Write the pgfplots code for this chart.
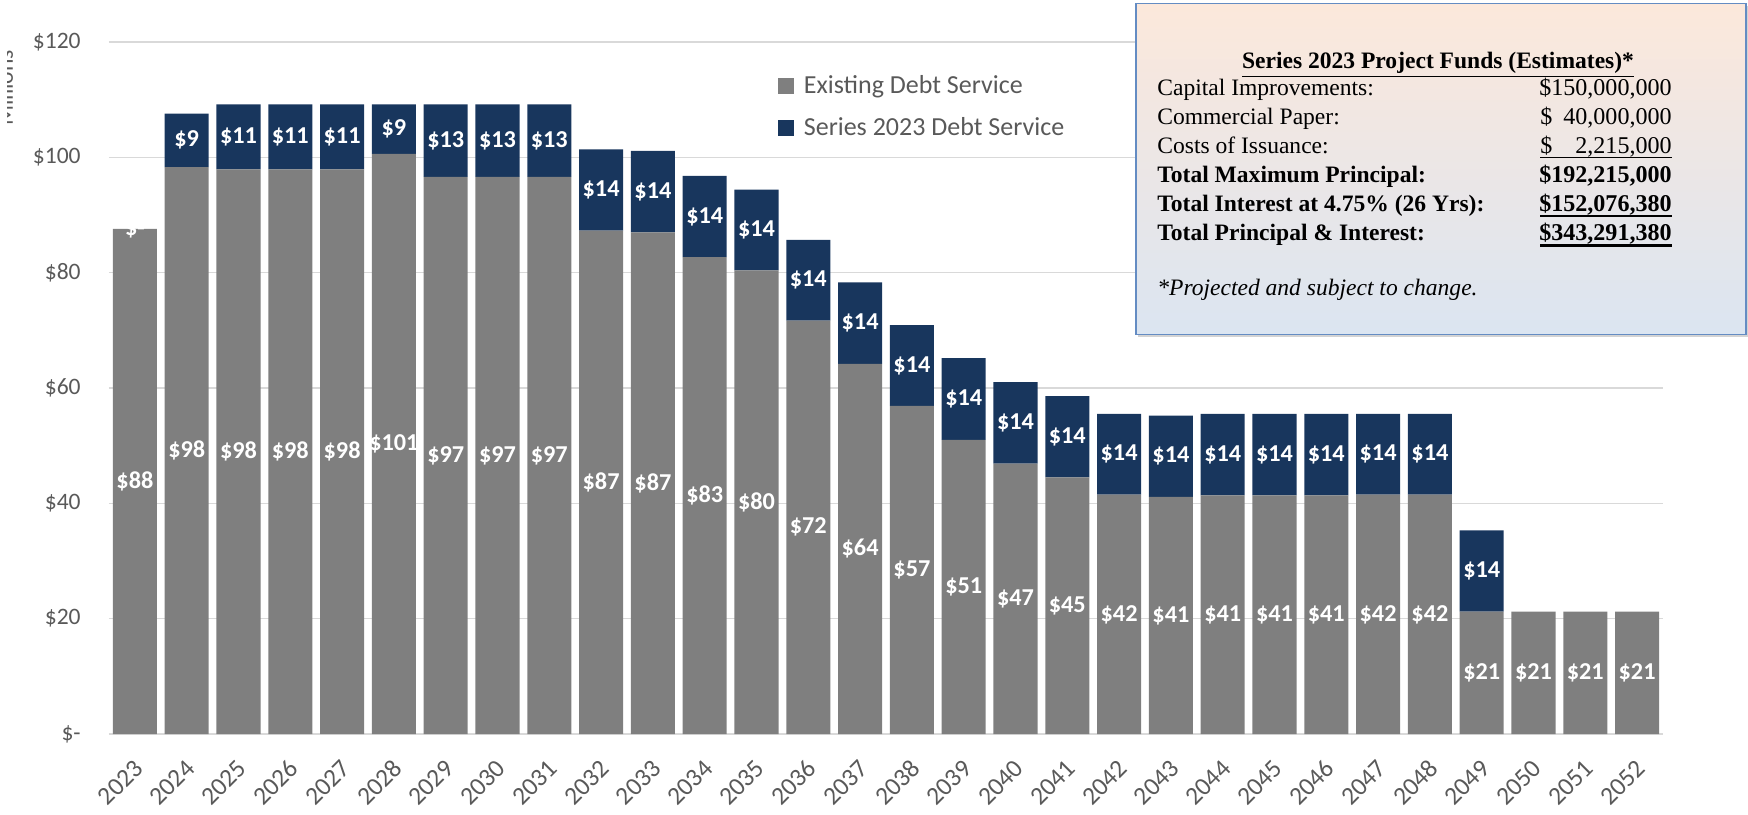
\documentclass[border=0pt]{standalone}
\usepackage{pgfplots}
\pgfplotsset{compat=1.18}
\usepackage{pgfplotstable}
\usepackage{fontspec}
\setmainfont{Carlito}
\newfontfamily\serif{Liberation Serif}
\usetikzlibrary{shadows}
\definecolor{exgray}{RGB}{127,127,127}
\definecolor{navy}{RGB}{24,54,93}
\definecolor{txtgray}{RGB}{89,89,89}
\definecolor{gridgray}{RGB}{217,217,217}
\definecolor{boxborder}{RGB}{100,140,195}
\definecolor{boxtop}{RGB}{252,232,219}
\definecolor{boxbot}{RGB}{219,229,241}

\pgfplotstableread{
x exist series elab slab
0 87.6 0 \$88 \$-
1 98.3 9.3 \$98 \$9
2 97.9 11.3 \$98 \$11
3 97.9 11.3 \$98 \$11
4 97.9 11.3 \$98 \$11
5 100.6 8.6 \$101 \$9
6 96.6 12.6 \$97 \$13
7 96.6 12.6 \$97 \$13
8 96.6 12.6 \$97 \$13
9 87.3 14.1 \$87 \$14
10 87.0 14.1 \$87 \$14
11 82.7 14.1 \$83 \$14
12 80.4 14.0 \$80 \$14
13 71.7 14.0 \$72 \$14
14 64.2 14.1 \$64 \$14
15 56.9 14.0 \$57 \$14
16 51.0 14.2 \$51 \$14
17 46.9 14.1 \$47 \$14
18 44.5 14.1 \$45 \$14
19 41.5 14.0 \$42 \$14
20 41.1 14.1 \$41 \$14
21 41.4 14.1 \$41 \$14
22 41.4 14.1 \$41 \$14
23 41.4 14.1 \$41 \$14
24 41.5 14.0 \$42 \$14
25 41.5 14.0 \$42 \$14
26 21.2 14.1 \$21 \$14
27 21.2 0 \$21 {}
28 21.2 0 \$21 {}
29 21.2 0 \$21 {}
}\data

\newcommand{\tickfont}{\fontsize{13.4}{16}\selectfont}
\newcommand{\xtickfont}{\fontsize{14.5}{17}\selectfont}
\newcommand{\labfont}{\fontsize{13.8}{16}\selectfont\bfseries}
\newcommand{\legfont}{\fontsize{14.8}{18}\selectfont}
\newcommand{\boxfont}{\fontsize{13.4}{16}\selectfont\serif}
\newcommand{\valfont}{\fontsize{13.7}{16}\selectfont\serif}

\pgfplotsset{frame/.style={
  scale only axis,
  width=310.8mm, height=138.4mm,
  at={(0,0)}, anchor=south west,
  xmin=-0.5, xmax=29.5,
  ymin=0, ymax=120}}

\begin{document}
\begin{tikzpicture}
\begin{axis}[
  frame,
  ybar stacked,
  bar width=0.85,
  xtick={0,...,29},
  xticklabels={2023,2024,2025,2026,2027,2028,2029,2030,2031,2032,2033,2034,2035,2036,2037,2038,2039,2040,2041,2042,2043,2044,2045,2046,2047,2048,2049,2050,2051,2052},
  ytick={0,20,...,120},
  yticklabels={\$-,\$20,\$40,\$60,\$80,\$100,\$120},
  axis x line*=bottom, axis y line*=left,
  x axis line style={gridgray, line width=0.3mm, -},
  y axis line style={draw=none},
  major tick length=0pt,
  ymajorgrids, grid style={gridgray, line width=0.3mm},
  yticklabel style={anchor=east, inner sep=0pt, xshift=-5.6mm, font=\tickfont, text=txtgray},
  xticklabel style={xshift=0.8mm, yshift=-6.0mm, rotate=45, anchor=east, inner sep=0pt, font=\xtickfont, text=txtgray},
  legend style={at={(0.4305,0.957)}, anchor=north west, draw=none, fill=none, font=\legfont, text=txtgray, inner sep=0pt, row sep=2.9mm},
  legend cell align=left,
  legend image code/.code={\fill[#1] (0mm,-1.55mm) rectangle (3.1mm,1.55mm); \path (4.4mm,0mm);},
]
\addplot[fill=exgray, draw=none] table[x=x, y=exist] {\data};
\addlegendentry{Existing Debt Service}
\addplot[fill=navy, draw=none] table[x=x, y=series] {\data};
\addlegendentry{Series 2023 Debt Service}
\end{axis}

% data labels, centred in each segment
\begin{axis}[frame, hide axis, clip=false,
  point meta=explicit symbolic,
  nodes near coords={\pgfplotspointmeta},
  nodes near coords align=center,
  every node near coord/.style={anchor=center, font=\labfont, text=white}]
\addplot[only marks, mark=none] table[x=x, y expr={\thisrow{exist}/2}, meta=elab] {\data};
\addplot[only marks, mark=none] table[x=x, y expr={\thisrow{exist}+\thisrow{series}/2}, meta=slab] {\data};
\end{axis}

% y axis title (clipped as in the reference)
\begin{scope}
\clip (-20.2mm,100mm) rectangle (-10mm,146mm);
\node[rotate=90, anchor=base, font=\tickfont, text=txtgray] at (-19.2mm,129.2mm) {Millions};
\end{scope}

% info box
\node[draw=boxborder, line width=0.3mm, top color=boxtop, bottom color=boxbot,
  drop shadow={shadow xshift=0.5mm, shadow yshift=-0.5mm, opacity=0.35},
  minimum width=122mm, minimum height=66.2mm, anchor=north west, inner sep=0pt]
  at (205.2mm,146.2mm) {};
\begin{scope}[every node/.style={inner sep=0pt}]
\node[anchor=base, font=\boxfont\bfseries] at (265.8mm,133.0mm) {\underline{Series 2023 Project Funds (Estimates)*}};
\node[anchor=base west, font=\boxfont] at (209.6mm,127.6mm) {Capital Improvements:};
\node[anchor=base west, font=\boxfont] at (209.6mm,121.8mm) {Commercial Paper:};
\node[anchor=base west, font=\boxfont] at (209.6mm,116.0mm) {Costs of Issuance:};
\node[anchor=base west, font=\boxfont\bfseries] at (209.6mm,110.2mm) {Total Maximum Principal:};
\node[anchor=base west, font=\boxfont\bfseries] at (209.6mm,104.4mm) {Total Interest at 4.75\% (26 Yrs):};
\node[anchor=base west, font=\boxfont\bfseries] at (209.6mm,98.6mm) {Total Principal \& Interest:};
\node[anchor=base east, font=\valfont] at (312.6mm,127.6mm) {\$150,000,000};
\node[anchor=base west, font=\valfont] at (286.2mm,121.8mm) {\$};
\node[anchor=base east, font=\valfont] at (312.6mm,121.8mm) {40,000,000};
\node[anchor=base west, font=\valfont] at (286.2mm,116.0mm) {\$};
\node[anchor=base east, font=\valfont] at (312.6mm,116.0mm) {2,215,000};
\draw[line width=0.3mm] (286.2mm,115.3mm) -- (312.6mm,115.3mm);
\node[anchor=base east, font=\valfont\bfseries] at (312.6mm,110.2mm) {\$192,215,000};
\node[anchor=base east, font=\valfont\bfseries] at (312.6mm,104.4mm) {\$152,076,380};
\draw[line width=0.5mm] (286.2mm,103.6mm) -- (312.6mm,103.6mm);
\node[anchor=base east, font=\valfont\bfseries] at (312.6mm,98.6mm) {\$343,291,380};
\draw[line width=0.7mm] (286.2mm,97.7mm) -- (312.6mm,97.7mm);
\node[anchor=base west, font=\boxfont\itshape] at (209.6mm,87.6mm) {*Projected and subject to change.};
\end{scope}

\pgfresetboundingbox
\path[use as bounding box] (-21.8mm,-16mm) rectangle (327.8mm,146.8mm);
\end{tikzpicture}
\end{document}
